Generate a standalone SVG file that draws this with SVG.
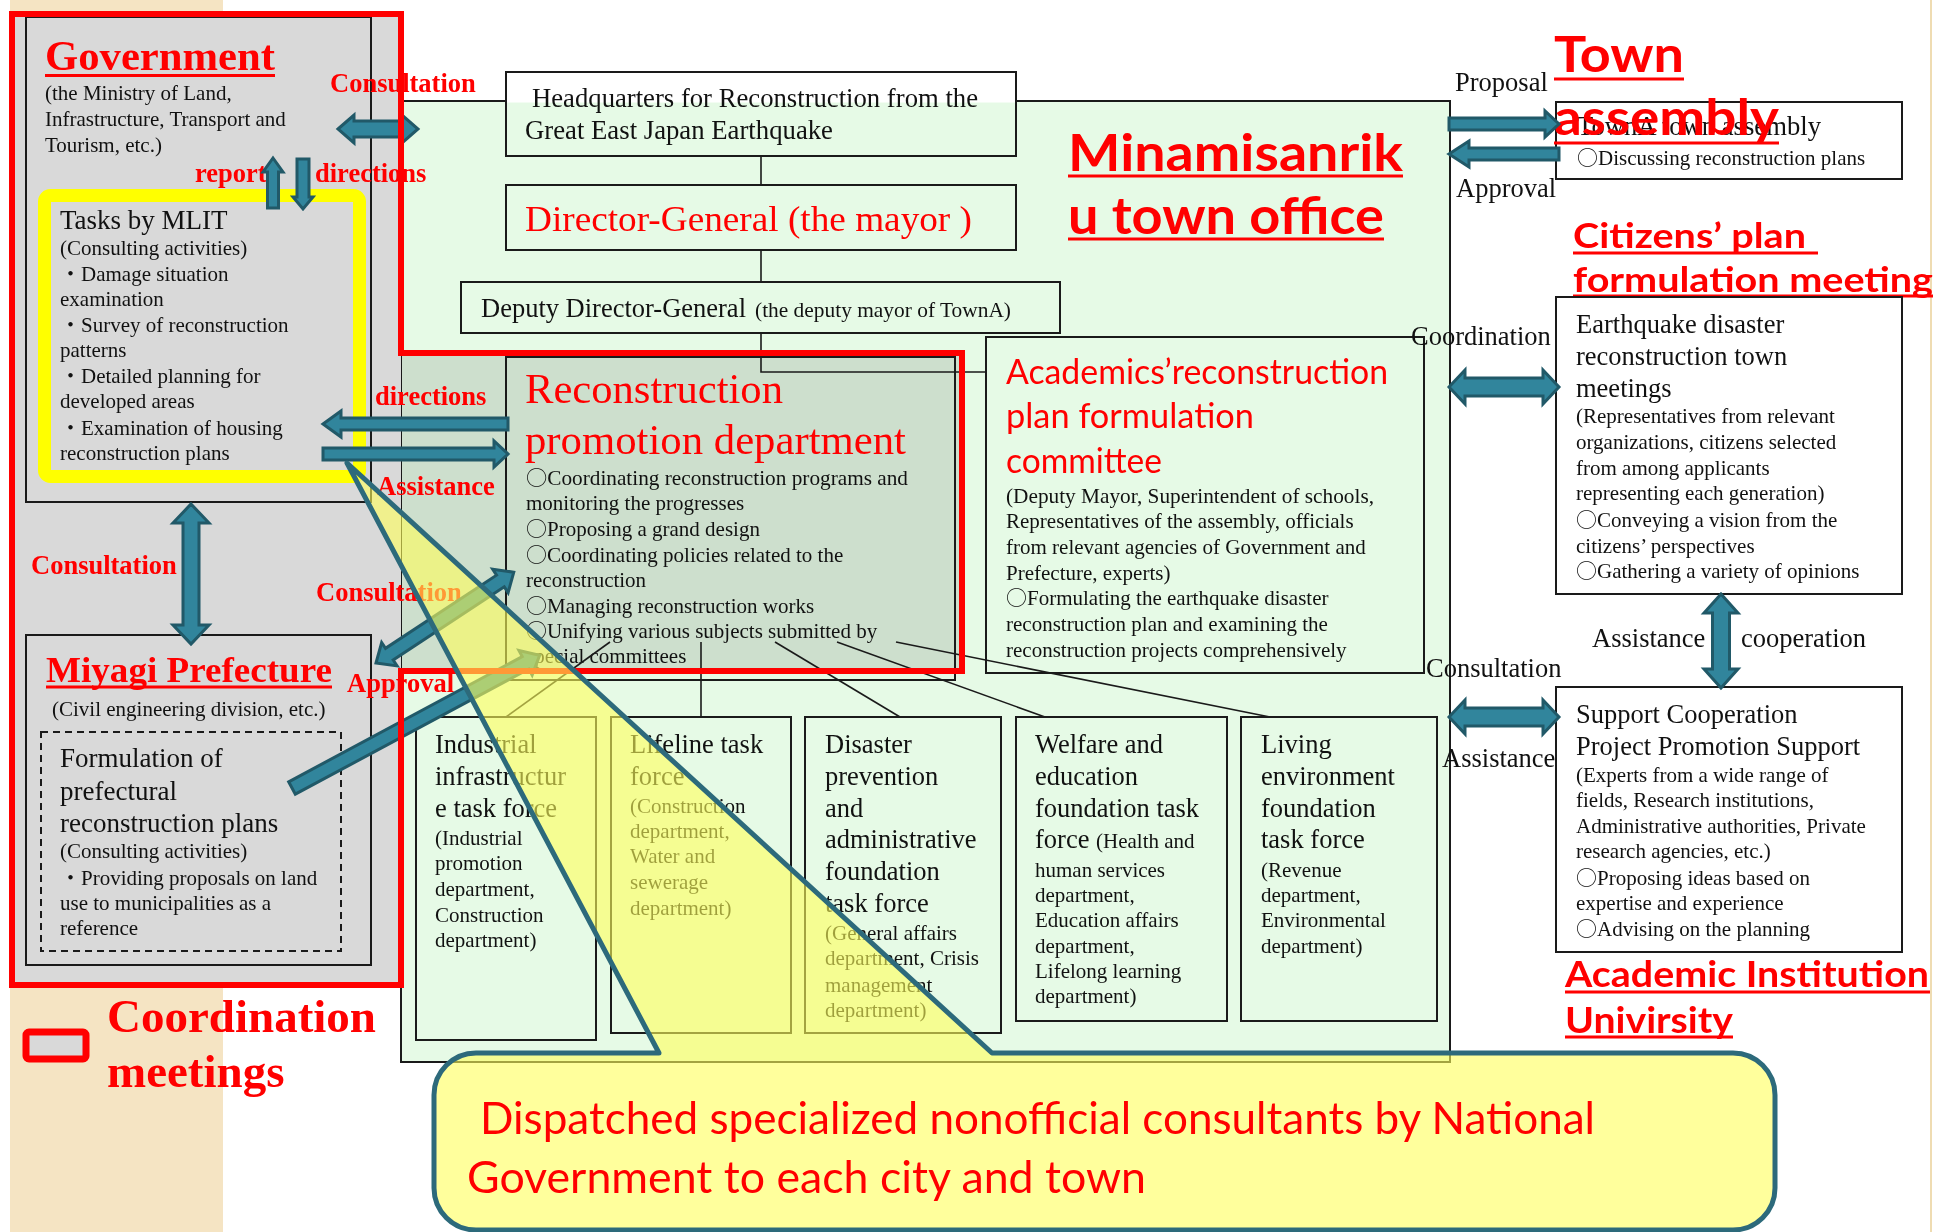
<svg xmlns="http://www.w3.org/2000/svg" width="1952" height="1232" viewBox="0 0 1952 1232">
<style>
.box{fill:none;stroke:#1a1a1a;stroke-width:2}
.ln{fill:none;stroke:#1a1a1a;stroke-width:1.6}
.arr{fill:#31859c;stroke:#215968;stroke-width:3;stroke-linejoin:miter}
.s{font-family:'Liberation Serif','Noto Sans CJK JP',serif;fill:#111}
.rb{font-family:'Liberation Serif',serif;font-weight:bold;fill:#f00}
.rs{font-family:'Liberation Serif',serif;fill:#f00}
.gs{font-family:Lato,'Noto Sans',sans-serif;fill:#f00}
.gb{font-family:Lato,'Noto Sans',sans-serif;font-weight:bold;fill:#f00}
.c{font-family:'Noto Sans CJK JP',sans-serif}
.t21{font-size:21px}
.t26{font-size:26.5px}
.ul{stroke:#f00;stroke-width:3}
</style>

<!-- page background -->
<rect width="1952" height="1232" fill="#fff"/>
<rect x="10" y="0" width="213" height="14" fill="#f5e4c3"/>
<rect x="10" y="985" width="213" height="247" fill="#f5e4c3"/>
<line x1="1931" y1="0" x2="1931" y2="1232" stroke="#efdcb2" stroke-width="2"/>

<!-- town office frame -->
<g id="town-office">
  <rect x="401" y="101" width="1049" height="961" fill="#e6fae6" stroke="#1a1a1a" stroke-width="2"/>
  <text class="gb" x="1068" y="171" font-size="52" textLength="335" lengthAdjust="spacingAndGlyphs">Minamisanrik</text>
  <line class="ul" x1="1068" y1="176" x2="1403" y2="176"/>
  <text class="gb" x="1068" y="234" font-size="52" textLength="316" lengthAdjust="spacingAndGlyphs">u town office</text>
  <line class="ul" x1="1068" y1="239" x2="1384" y2="239"/>
</g>

<!-- coordination meetings area fill -->
<path d="M12,14 H401 V985 H12 Z" fill="#d9d9d9"/>
<rect x="401" y="353" width="561" height="318" fill="#e4e4e4" style="mix-blend-mode:multiply"/>

<!-- Government -->
<g id="government">
  <rect class="box" x="26" y="17" width="345" height="485"/>
  <text class="rb" x="45" y="70" font-size="42" textLength="230" lengthAdjust="spacingAndGlyphs">Government</text>
  <line class="ul" x1="45" y1="75.5" x2="275" y2="75.5"/>
  <text class="s t21" x="45" y="100">(the Ministry of Land,</text>
  <text class="s t21" x="45" y="126">Infrastructure, Transport and</text>
  <text class="s t21" x="45" y="152">Tourism, etc.)</text>
</g>

<g id="mlit-tasks">
  <rect x="44.5" y="195.5" width="315" height="281" rx="6" fill="none" stroke="#ffff00" stroke-width="13"/>
  <text class="s" x="60" y="229" font-size="27">Tasks by MLIT</text>
  <text class="s t21" x="60" y="255">(Consulting activities)</text>
  <text class="s t21" x="60" y="281">・Damage situation</text>
  <text class="s t21" x="60" y="306">examination</text>
  <text class="s t21" x="60" y="332">・Survey of reconstruction</text>
  <text class="s t21" x="60" y="357">patterns</text>
  <text class="s t21" x="60" y="383">・Detailed planning for</text>
  <text class="s t21" x="60" y="408">developed areas</text>
  <text class="s t21" x="60" y="435">・Examination of housing</text>
  <text class="s t21" x="60" y="460">reconstruction plans</text>
</g>

<g id="miyagi">
  <rect class="box" x="26" y="635" width="345" height="330"/>
  <text class="rb" x="46" y="682" font-size="36" textLength="286" lengthAdjust="spacingAndGlyphs">Miyagi Prefecture</text>
  <line class="ul" x1="46" y1="687" x2="332" y2="687"/>
  <text class="s t21" x="52" y="716">(Civil engineering division, etc.)</text>
  <rect x="41" y="732" width="300" height="219" fill="none" stroke="#1a1a1a" stroke-width="2" stroke-dasharray="7 5"/>
  <text class="s" x="60" y="767" font-size="27">Formulation of</text>
  <text class="s" x="60" y="800" font-size="27">prefectural</text>
  <text class="s" x="60" y="832" font-size="27">reconstruction plans</text>
  <text class="s t21" x="60" y="858">(Consulting activities)</text>
  <text class="s t21" x="60" y="885">・Providing proposals on land</text>
  <text class="s t21" x="60" y="910">use to municipalities as a</text>
  <text class="s t21" x="60" y="935">reference</text>
</g>

<g id="legend">
  <rect x="26" y="1032" width="60" height="27" rx="3" fill="#d9d9d9" stroke="#f00" stroke-width="7"/>
  <text class="rb" x="107" y="1032" font-size="47">Coordination</text>
  <text class="rb" x="107" y="1087" font-size="47">meetings</text>
</g>

<!-- town office units -->
<g id="headquarters">
  <rect x="507" y="73" width="508" height="29.5" fill="#fff"/>
  <rect class="box" x="506" y="72" width="510" height="84"/>
  <text class="s" x="532" y="107" font-size="26.5" textLength="446" lengthAdjust="spacingAndGlyphs">Headquarters for Reconstruction from the</text>
  <text class="s" x="525" y="139" font-size="26.5" textLength="308" lengthAdjust="spacingAndGlyphs">Great East Japan Earthquake</text>
</g>

<g id="director-general">
  <rect class="box" x="506" y="185" width="510" height="65"/>
  <text class="rs" x="525" y="231" font-size="36.5" textLength="447" lengthAdjust="spacingAndGlyphs">Director-General (the mayor )</text>
</g>

<g id="deputy">
  <rect class="box" x="461" y="282" width="599" height="51"/>
  <text class="s" x="481" y="317" font-size="27" textLength="265" lengthAdjust="spacingAndGlyphs">Deputy Director-General</text>
  <text class="s" x="755" y="317" font-size="21.5" textLength="256" lengthAdjust="spacingAndGlyphs">(the deputy mayor of TownA)</text>
</g>

<g id="reconstruction-dept">
  <rect class="box" x="506" y="357" width="449" height="323"/>
  <text class="rs" x="525" y="403" font-size="43" textLength="258" lengthAdjust="spacingAndGlyphs">Reconstruction</text>
  <text class="rs" x="525" y="454" font-size="43" textLength="381" lengthAdjust="spacingAndGlyphs">promotion department</text>
  <text class="s t21" x="526" y="485" textLength="382" lengthAdjust="spacingAndGlyphs"><tspan class="c">○</tspan>Coordinating reconstruction programs and</text>
  <text class="s t21" x="526" y="510">monitoring the progresses</text>
  <text class="s t21" x="526" y="536"><tspan class="c">○</tspan>Proposing a grand design</text>
  <text class="s t21" x="526" y="562"><tspan class="c">○</tspan>Coordinating policies related to the</text>
  <text class="s t21" x="526" y="587">reconstruction</text>
  <text class="s t21" x="526" y="613"><tspan class="c">○</tspan>Managing reconstruction works</text>
  <text class="s t21" x="526" y="638"><tspan class="c">○</tspan>Unifying various subjects submitted by</text>
  <text class="s t21" x="526" y="663">special committees</text>
</g>

<g id="academics-committee">
  <rect class="box" x="986" y="337" width="438" height="336"/>
  <text class="gs" x="1006" y="384" font-size="34" textLength="382" lengthAdjust="spacingAndGlyphs">Academics’reconstruction</text>
  <text class="gs" x="1006" y="428" font-size="34" textLength="248" lengthAdjust="spacingAndGlyphs">plan formulation</text>
  <text class="gs" x="1006" y="473" font-size="34" textLength="156" lengthAdjust="spacingAndGlyphs">committee</text>
  <text class="s t21" x="1006" y="503" textLength="368" lengthAdjust="spacingAndGlyphs">(Deputy Mayor, Superintendent of schools,</text>
  <text class="s t21" x="1006" y="528">Representatives of the assembly, officials</text>
  <text class="s t21" x="1006" y="554">from relevant agencies of Government and</text>
  <text class="s t21" x="1006" y="580">Prefecture, experts)</text>
  <text class="s t21" x="1006" y="605"><tspan class="c">○</tspan>Formulating the earthquake disaster</text>
  <text class="s t21" x="1006" y="631">reconstruction plan and examining the</text>
  <text class="s t21" x="1006" y="657">reconstruction projects comprehensively</text>
</g>

<g id="industrial-task-force">
  <rect class="box" x="416" y="717" width="180" height="323"/>
  <text class="s t26" x="435" y="753">Industrial</text>
  <text class="s t26" x="435" y="785">infrastructur</text>
  <text class="s t26" x="435" y="817">e task force</text>
  <text class="s t21" x="435" y="845">(Industrial</text>
  <text class="s t21" x="435" y="870">promotion</text>
  <text class="s t21" x="435" y="896">department,</text>
  <text class="s t21" x="435" y="922">Construction</text>
  <text class="s t21" x="435" y="947">department)</text>
</g>

<g id="lifeline-task-force">
  <rect class="box" x="611" y="717" width="180" height="316"/>
  <text class="s t26" x="630" y="753">Lifeline task</text>
  <text class="s t26" x="630" y="785">force</text>
  <text class="s t21" x="630" y="813">(Construction</text>
  <text class="s t21" x="630" y="838">department,</text>
  <text class="s t21" x="630" y="863">Water and</text>
  <text class="s t21" x="630" y="889">sewerage</text>
  <text class="s t21" x="630" y="915">department)</text>
</g>

<g id="disaster-task-force">
  <rect class="box" x="805" y="717" width="196" height="316"/>
  <text class="s t26" x="825" y="753">Disaster</text>
  <text class="s t26" x="825" y="785">prevention</text>
  <text class="s t26" x="825" y="817">and</text>
  <text class="s t26" x="825" y="848">administrative</text>
  <text class="s t26" x="825" y="880">foundation</text>
  <text class="s t26" x="825" y="912">task force</text>
  <text class="s t21" x="825" y="940">(General affairs</text>
  <text class="s t21" x="825" y="965">department, Crisis</text>
  <text class="s t21" x="825" y="992">management</text>
  <text class="s t21" x="825" y="1017">department)</text>
</g>

<g id="welfare-task-force">
  <rect class="box" x="1016" y="717" width="211" height="304"/>
  <text class="s t26" x="1035" y="753">Welfare and</text>
  <text class="s t26" x="1035" y="785">education</text>
  <text class="s t26" x="1035" y="817">foundation task</text>
  <text class="s t26" x="1035" y="848">force <tspan class="t21">(Health and</tspan></text>
  <text class="s t21" x="1035" y="877">human services</text>
  <text class="s t21" x="1035" y="902">department,</text>
  <text class="s t21" x="1035" y="927">Education affairs</text>
  <text class="s t21" x="1035" y="953">department,</text>
  <text class="s t21" x="1035" y="978">Lifelong learning</text>
  <text class="s t21" x="1035" y="1003">department)</text>
</g>

<g id="living-task-force">
  <rect class="box" x="1241" y="717" width="196" height="304"/>
  <text class="s t26" x="1261" y="753">Living</text>
  <text class="s t26" x="1261" y="785">environment</text>
  <text class="s t26" x="1261" y="817">foundation</text>
  <text class="s t26" x="1261" y="848">task force</text>
  <text class="s t21" x="1261" y="877">(Revenue</text>
  <text class="s t21" x="1261" y="902">department,</text>
  <text class="s t21" x="1261" y="927">Environmental</text>
  <text class="s t21" x="1261" y="953">department)</text>
</g>

<!-- outside bodies -->
<g id="town-assembly">
  <text class="gb" x="1554" y="72" font-size="50" textLength="130" lengthAdjust="spacingAndGlyphs">Town</text>
  <line class="ul" x1="1554" y1="79" x2="1684" y2="79"/>
  <rect class="box" x="1556" y="102" width="346" height="77"/>
  <text class="s t26" x="1577" y="135" textLength="244" lengthAdjust="spacingAndGlyphs">TownA town assembly</text>
  <text class="s t21" x="1577" y="165"><tspan class="c">○</tspan>Discussing reconstruction plans</text>
  <text class="gb" x="1554" y="135" font-size="50" textLength="225" lengthAdjust="spacingAndGlyphs">assembly</text>
  <line class="ul" x1="1554" y1="143" x2="1779" y2="143"/>
</g>

<g id="citizens-meeting">
  <text class="gb" x="1573" y="248" font-size="34" textLength="233" lengthAdjust="spacingAndGlyphs">Citizens’ plan</text>
  <line class="ul" x1="1573" y1="253" x2="1818" y2="253"/>
  <text class="gb" x="1573" y="292" font-size="34" textLength="360" lengthAdjust="spacingAndGlyphs">formulation meeting</text>
  <line class="ul" x1="1573" y1="296" x2="1933" y2="296"/>
  <rect class="box" x="1556" y="297" width="346" height="297"/>
  <text class="s t26" x="1576" y="333">Earthquake disaster</text>
  <text class="s t26" x="1576" y="365">reconstruction town</text>
  <text class="s t26" x="1576" y="397">meetings</text>
  <text class="s t21" x="1576" y="423">(Representatives from relevant</text>
  <text class="s t21" x="1576" y="449">organizations, citizens selected</text>
  <text class="s t21" x="1576" y="475">from among applicants</text>
  <text class="s t21" x="1576" y="500">representing each generation)</text>
  <text class="s t21" x="1576" y="527"><tspan class="c">○</tspan>Conveying a vision from the</text>
  <text class="s t21" x="1576" y="553">citizens’ perspectives</text>
  <text class="s t21" x="1576" y="578"><tspan class="c">○</tspan>Gathering a variety of opinions</text>
</g>

<g id="academic-support">
  <rect class="box" x="1556" y="687" width="346" height="265"/>
  <text class="s t26" x="1576" y="723">Support Cooperation</text>
  <text class="s t26" x="1576" y="755">Project Promotion Support</text>
  <text class="s t21" x="1576" y="782">(Experts from a wide range of</text>
  <text class="s t21" x="1576" y="807">fields, Research institutions,</text>
  <text class="s t21" x="1576" y="833">Administrative authorities, Private</text>
  <text class="s t21" x="1576" y="858">research agencies, etc.)</text>
  <text class="s t21" x="1576" y="885"><tspan class="c">○</tspan>Proposing ideas based on</text>
  <text class="s t21" x="1576" y="910">expertise and experience</text>
  <text class="s t21" x="1576" y="936"><tspan class="c">○</tspan>Advising on the planning</text>
  <text class="gb" x="1565" y="987" font-size="36" textLength="364" lengthAdjust="spacingAndGlyphs">Academic Institution</text>
  <line class="ul" x1="1565" y1="992" x2="1930" y2="992"/>
  <text class="gb" x="1565" y="1033" font-size="36" textLength="168" lengthAdjust="spacingAndGlyphs">Univirsity</text>
  <line class="ul" x1="1565" y1="1037" x2="1733" y2="1037"/>
</g>

<!-- connectors: org lines, block arrows and their labels -->
<g id="connectors">
  <line class="ln" x1="761" y1="156" x2="761" y2="185"/>
  <line class="ln" x1="761" y1="250" x2="761" y2="282"/>
  <polyline class="ln" points="761,333 761,372 986,372"/>
  <line class="ln" x1="610" y1="642" x2="506" y2="717"/>
  <line class="ln" x1="701" y1="642" x2="701" y2="717"/>
  <line class="ln" x1="775" y1="642" x2="900" y2="717"/>
  <line class="ln" x1="837" y1="642" x2="1045" y2="717"/>
  <line class="ln" x1="896" y1="642" x2="1270" y2="717"/>

  <text class="rb" x="330" y="92" font-size="26.5">Consultation</text>
  <text class="rb" x="195" y="182" font-size="26.5">report</text>
  <text class="rb" x="315" y="182" font-size="26.5">directions</text>
  <text class="rb" x="375" y="405" font-size="26.5">directions</text>
  <text class="rb" x="377" y="495" font-size="26.5">Assistance</text>
  <text class="rb" x="31" y="574" font-size="26.5">Consultation</text>
  <text class="rb" x="316" y="601" font-size="26.5">Consultation</text>
  <text class="rb" x="347" y="692" font-size="26.5">Approval</text>

  <polygon class="arr" points="338,129 354,115 354,121 402,121 402,115 418,129 402,143 402,137 354,137 354,143"/>
  <polygon class="arr" points="273,158 283,172 278.5,172 278.5,208 267.5,208 267.5,172 263,172"/>
  <polygon class="arr" points="297,159 309,159 309,197 313,197 303,209 293,197 297,197"/>
  <polygon class="arr" points="323,424 341,411 341,418 508,418 508,430 341,430 341,437"/>
  <polygon class="arr" points="323,448 494,448 494,441 508,454 494,467 494,460 323,460"/>
  <polygon class="arr" points="191,504 209,523 199,523 199,625 209,625 191,644 173,625 183,625 183,523 173,523"/>
  <polygon class="arr" transform="translate(376,663) rotate(-33.4)" points="0,0 16,-14 16,-7 149,-7 149,-14 165,0 149,14 149,7 16,7 16,14"/>
  <polygon class="arr" transform="translate(292,788) rotate(-28.2)" points="0,-7 265,-7 265,-14 281,0 265,14 265,7 0,7"/>

  <text class="s t26" x="1455" y="91">Proposal</text>
  <text class="s t26" x="1456" y="197">Approval</text>
  <text class="s t26" x="1411" y="345">Coordination</text>
  <text class="s t26" x="1426" y="677">Consultation</text>
  <text class="s t26" x="1442" y="767">Assistance</text>
  <text class="s t26" x="1592" y="647">Assistance</text>
  <text class="s t26" x="1741" y="647">cooperation</text>
  <polygon class="arr" points="1449,118 1545,118 1545,111 1559,124 1545,137 1545,130 1449,130"/>
  <polygon class="arr" points="1449,154 1469,141 1469,148 1559,148 1559,160 1469,160 1469,167"/>
  <polygon class="arr" points="1449,387 1465,370 1465,378 1543,378 1543,370 1559,387 1543,404 1543,396 1465,396 1465,404"/>
  <polygon class="arr" points="1449,717 1465,700 1465,708 1543,708 1543,700 1559,717 1543,734 1543,726 1465,726 1465,734"/>
  <polygon class="arr" points="1721,594 1738,613 1729.5,613 1729.5,669 1738,669 1721,688 1704,669 1712.5,669 1712.5,613 1704,613"/>
</g>

<!-- coordination meetings outline -->
<path id="coordination-outline" d="M12,14 H401 V353 H962 V671 H401 V985 H12 Z" fill="none" stroke="#f00" stroke-width="6"/>

<!-- consultant dispatch callout -->
<g id="dispatch-callout">
  <path d="M476,1053 L659,1053 L347,463 L992,1053 L1733,1053 A42,42 0 0 1 1775,1095 L1775,1188 A42,42 0 0 1 1733,1230 L476,1230 A42,42 0 0 1 434,1188 L434,1095 A42,42 0 0 1 476,1053 Z" fill="#ffff5a" fill-opacity="0.6" stroke="#2d6a7b" stroke-width="5" stroke-linejoin="round"/>
  <text class="gs" x="480" y="1134" font-size="44" textLength="1115" lengthAdjust="spacingAndGlyphs">Dispatched specialized nonofficial consultants by National</text>
  <text class="gs" x="467" y="1193" font-size="44" textLength="679" lengthAdjust="spacingAndGlyphs">Government to each city and town</text>
</g>
</svg>
